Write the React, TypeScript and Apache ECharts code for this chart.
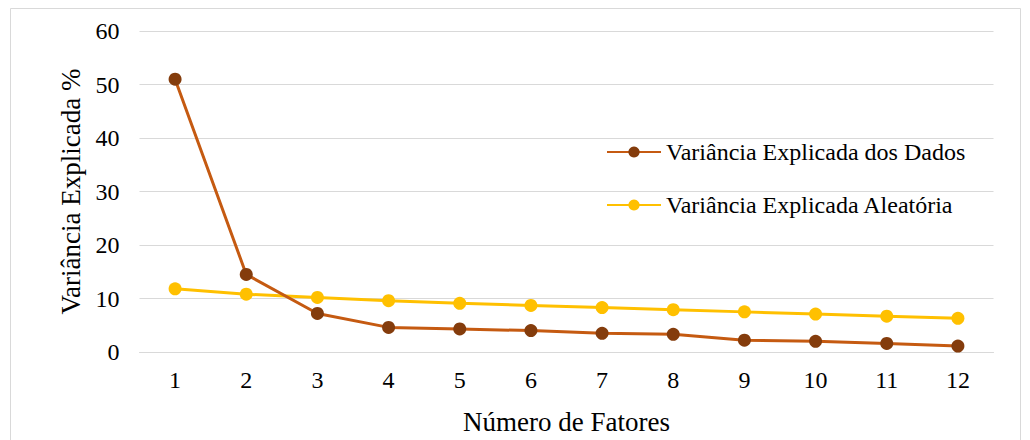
import React, { useEffect, useRef } from "react";
import * as echarts from "echarts";

const categories = ["1", "2", "3", "4", "5", "6", "7", "8", "9", "10", "11", "12"];
const dadosValues = [51.0, 14.5, 7.2, 4.6, 4.3, 4.0, 3.5, 3.3, 2.2, 2.0, 1.6, 1.1];
const aleatoriaValues = [11.8, 10.8, 10.2, 9.6, 9.1, 8.7, 8.3, 7.9, 7.5, 7.1, 6.7, 6.3];
const seriesNames = ["Variância Explicada dos Dados", "Variância Explicada Aleatória"];
const xTitle = "Número de Fatores";
const yTitle = "Variância Explicada %";

const FONT = "Liberation Serif";

export default function App() {
  const ref = useRef<HTMLDivElement>(null);
  useEffect(() => {
    if (!ref.current) return;
    const chart = echarts.init(ref.current, undefined, { renderer: "svg" });
    chart.setOption({
      animation: false,
      backgroundColor: "#ffffff",
      textStyle: { fontFamily: FONT },
      graphic: [
        {
          type: "rect",
          shape: { x: 10.5, y: 8.5, width: 1010, height: 440 },
          style: { fill: "none", stroke: "#D9D9D9", lineWidth: 1 },
          silent: true,
        },
      ],
      grid: { left: 139.5, right: 36.5, top: 31, bottom: 86, containLabel: false },
      legend: {
        orient: "vertical",
        left: 601,
        top: 135,
        itemGap: 29,
        itemWidth: 54,
        itemHeight: 14,
        textStyle: { fontFamily: FONT, fontSize: 24, color: "#000" },
        data: seriesNames,
      },
      xAxis: {
        type: "category",
        data: categories,
        boundaryGap: true,
        name: xTitle,
        nameLocation: "middle",
        nameGap: 56,
        nameTextStyle: { fontFamily: FONT, fontSize: 27, color: "#000" },
        axisLine: { show: true, lineStyle: { color: "#D9D9D9", width: 1 } },
        axisTick: { show: false },
        axisLabel: { fontFamily: FONT, fontSize: 24, color: "#000", margin: 16 },
      },
      yAxis: {
        type: "value",
        min: 0,
        max: 60,
        interval: 10,
        name: yTitle,
        nameLocation: "middle",
        nameGap: 54,
        nameTextStyle: { fontFamily: FONT, fontSize: 27, color: "#000" },
        axisLine: { show: false },
        axisTick: { show: false },
        axisLabel: { fontFamily: FONT, fontSize: 24, color: "#000", margin: 20 },
        splitLine: { lineStyle: { color: "#D9D9D9", width: 1 } },
      },
      series: [
        {
          name: seriesNames[0],
          type: "line",
          data: dadosValues,
          symbol: "circle",
          symbolSize: 13,
          lineStyle: { color: "#C55A11", width: 3 },
          itemStyle: { color: "#843C0C" },
          z: 3,
        },
        {
          name: seriesNames[1],
          type: "line",
          data: aleatoriaValues,
          symbol: "circle",
          symbolSize: 13,
          lineStyle: { color: "#FFC000", width: 3 },
          itemStyle: { color: "#FFC000" },
          z: 2,
        },
      ],
    });
    return () => chart.dispose();
  }, []);
  return (
    <div
      ref={ref}
      style={{ position: "fixed", left: 0, top: 0, width: 1030, height: 440 }}
    />
  );
}
